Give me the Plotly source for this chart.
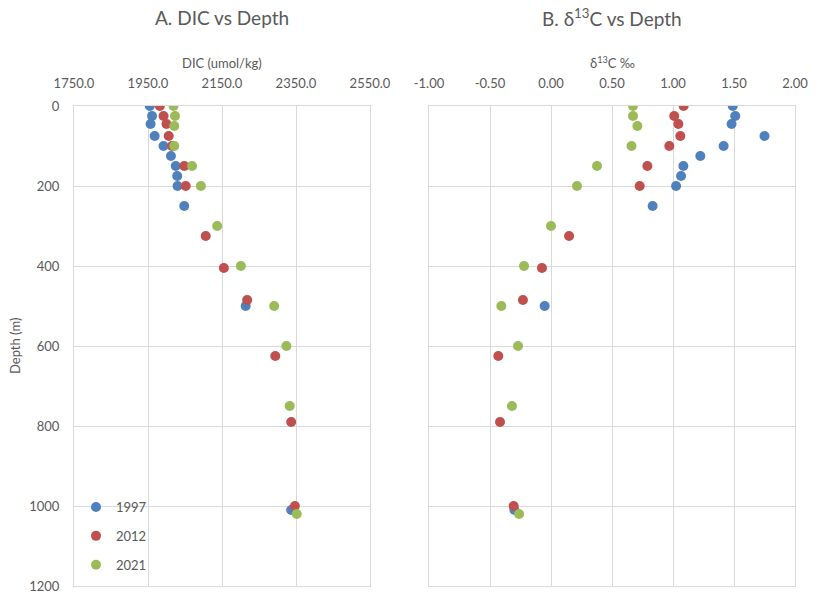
import plotly.graph_objects as go

# ---------------- data ----------------
years = ["1997", "2012", "2021"]
colors = ["#4F81BD", "#C0504D", "#9BBB59"]

depth_1997 = [0, 25, 45, 75, 100, 125, 150, 175, 200, 250, 500, 1010]
dic_1997 = [1955, 1961, 1957, 1968, 1992, 2012, 2025, 2029, 2030, 2048, 2214, 2337]
d13c_1997 = [1.49, 1.51, 1.48, 1.75, 1.415, 1.224, 1.085, 1.066, 1.025, 0.833, -0.052, -0.30]

depth_2012 = [0, 25, 45, 75, 100, 150, 200, 325, 405, 485, 625, 790, 1000]
dic_2012 = [1982, 1992, 2000, 2006, 2015, 2048, 2052, 2106, 2155, 2218, 2294, 2337, 2347]
d13c_2012 = [1.087, 1.01, 1.044, 1.06, 0.97, 0.79, 0.727, 0.148, -0.074, -0.23, -0.432, -0.418, -0.306]

depth_2021 = [0, 25, 50, 100, 150, 200, 300, 400, 500, 600, 750, 1020]
dic_2021 = [2019, 2023, 2021, 2021, 2069, 2093, 2137, 2201, 2291, 2324, 2333, 2352]
d13c_2021 = [0.672, 0.672, 0.708, 0.66, 0.377, 0.213, 0.0, -0.221, -0.407, -0.27, -0.32, -0.262]

dic_ticks = [1750, 1950, 2150, 2350, 2550]
d13c_ticks = [-1.0, -0.5, 0.0, 0.5, 1.0, 1.5, 2.0]
d13c_ticktext = ["-1.00", "-0.50", "0.00", "0.50", "1.00", "1.50", "2.00"]
depth_ticks = [0, 200, 400, 600, 800, 1000, 1200]

depths = [depth_1997, depth_2012, depth_2021]
dics = [dic_1997, dic_2012, dic_2021]
d13cs = [d13c_1997, d13c_2012, d13c_2021]

# ---------------- figure ----------------
FONT = "Lato, 'Liberation Sans', sans-serif"
TXT = "#595959"
GRID = "#D9D9D9"
W, H = 818, 595

fig = go.Figure()
for i in range(3):
    fig.add_trace(go.Scatter(
        x=dics[i], y=depths[i], mode="markers", name=years[i],
        legendgroup=years[i],
        marker=dict(color=colors[i], size=10),
        xaxis="x", yaxis="y", showlegend=True))
for i in range(3):
    fig.add_trace(go.Scatter(
        x=d13cs[i], y=depths[i], mode="markers", name=years[i],
        legendgroup=years[i],
        marker=dict(color=colors[i], size=10),
        xaxis="x2", yaxis="y2", showlegend=False))

x1d = [74 / W, 370 / W]
x2d = [429 / W, 795 / W]
yd = [1 - 586 / H, 1 - 106 / H]

axcommon = dict(showgrid=True, gridcolor=GRID, gridwidth=1, zeroline=False,
                automargin=False, ticks="",
                tickfont=dict(family=FONT, size=13, color=TXT))

fig.update_layout(
    width=W, height=H,
    margin=dict(l=0, r=0, t=0, b=0),
    paper_bgcolor="white", plot_bgcolor="white",
    font=dict(family=FONT, color=TXT),
    xaxis=dict(domain=x1d, range=[1750, 2550], tickvals=dic_ticks,
               tickformat=".1f", side="top", anchor="y", ticklabelstandoff=12,
               showline=True, linecolor=GRID, mirror=True, **axcommon),
    yaxis=dict(domain=yd, range=[1200, 0], tickvals=depth_ticks, anchor="x",
               ticklabelstandoff=11, showline=True, linecolor=GRID, mirror=True, **axcommon),
    xaxis2=dict(domain=x2d, range=[-1, 2], tickvals=d13c_ticks, ticktext=d13c_ticktext,
                side="top", anchor="y2", ticklabelstandoff=12,
                showline=True, linecolor=GRID, mirror=True, **axcommon),
    yaxis2=dict(domain=yd, range=[1200, 0], tickvals=depth_ticks, showticklabels=False,
                anchor="x2", showline=True, linecolor=GRID, mirror=True, **axcommon),
    legend=dict(x=76 / W, y=1 - 492 / H, xanchor="left", yanchor="top",
                bgcolor="rgba(0,0,0,0)", font=dict(family=FONT, size=13, color=TXT),
                tracegroupgap=9, traceorder="grouped"),
    showlegend=True,
)

anns = [
    dict(text="A. DIC vs Depth", x=222 / W, y=1 - 17 / H, size=19),
    dict(text="B. δ<sup>13</sup>C vs Depth", x=612 / W, y=1 - 17 / H, size=19),
    dict(text="DIC (umol/kg)", x=222 / W, y=1 - 63 / H, size=13),
    dict(text="δ<sup>13</sup>C ‰", x=612 / W, y=1 - 63 / H, size=13),
]
for a in anns:
    fig.add_annotation(text=a["text"], x=a["x"], y=a["y"], xref="paper", yref="paper",
                       xanchor="center", yanchor="middle", showarrow=False,
                       font=dict(family=FONT, size=a["size"], color=TXT))
fig.add_annotation(text="Depth (m)", x=15 / W, y=1 - 346 / H, xref="paper", yref="paper",
                   xanchor="center", yanchor="middle", showarrow=False, textangle=-90,
                   font=dict(family=FONT, size=13, color=TXT))

fig.write_html("out.html")
